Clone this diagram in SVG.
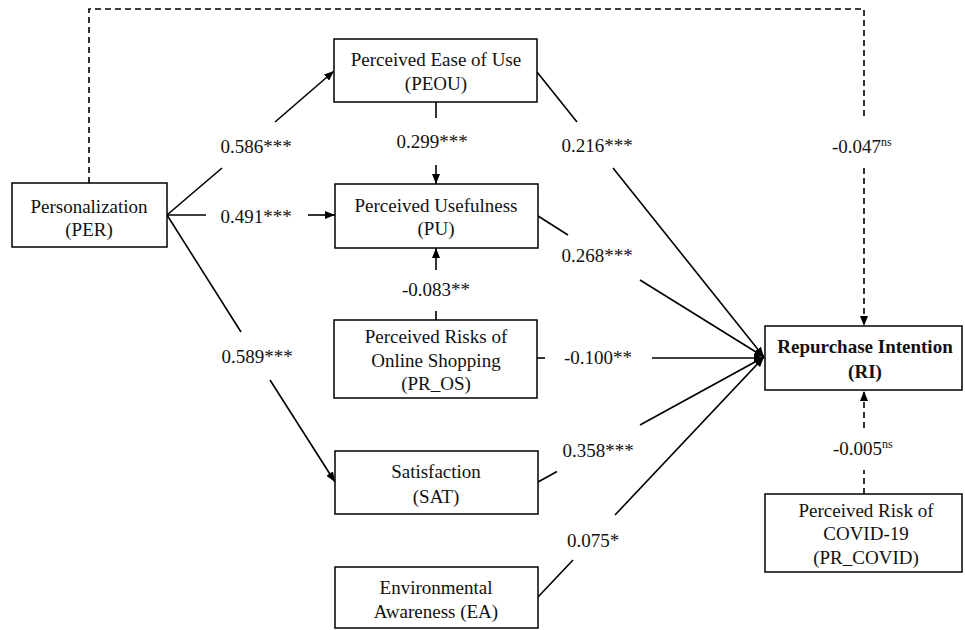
<svg xmlns="http://www.w3.org/2000/svg" width="965" height="630" viewBox="0 0 965 630">
<style>
.box{fill:#fff;stroke:#000;stroke-width:1.5}
.t{font-family:"Liberation Serif","Times New Roman",serif;font-size:19px;fill:#111;text-anchor:middle}
.b{font-weight:bold}
.lbl{font-family:"Liberation Serif","Times New Roman",serif;font-size:19px;fill:#111;text-anchor:middle}
.ls{font-family:"Liberation Serif","Times New Roman",serif;font-size:19px;fill:#111}
.ln{fill:none;stroke:#000;stroke-width:1.6}
.dash{fill:none;stroke:#000;stroke-width:1.6;stroke-dasharray:6 4}
</style>
<defs>
<marker id="ah" markerUnits="userSpaceOnUse" markerWidth="10" markerHeight="8" refX="10" refY="4" orient="auto">
<path d="M0,0 L10,4 L0,8 z" fill="#000"/>
</marker>
</defs>
<rect width="965" height="630" fill="#fff"/>
<g id="connectors">
<!-- PER -> RI dashed -->
<polyline class="dash" points="89,183 89,9 864,9 864,120"/>
<line class="dash" x1="864" y1="168" x2="864" y2="326" marker-end="url(#ah)"/>
<!-- PR_COVID -> RI dashed -->
<line class="dash" x1="864" y1="494" x2="864" y2="470"/>
<line class="dash" x1="864" y1="428" x2="864" y2="391" marker-end="url(#ah)"/>
<!-- PER -> PEOU -->
<line class="ln" x1="167" y1="215" x2="222" y2="168"/>
<line class="ln" x1="275" y1="122" x2="334" y2="71" marker-end="url(#ah)"/>
<!-- PER -> PU -->
<line class="ln" x1="167" y1="215" x2="206" y2="215"/>
<line class="ln" x1="308" y1="215" x2="335" y2="215" marker-end="url(#ah)"/>
<!-- PER -> SAT -->
<line class="ln" x1="167" y1="215" x2="241" y2="332"/>
<line class="ln" x1="270" y1="380" x2="335" y2="482" marker-end="url(#ah)"/>
<!-- PEOU -> PU -->
<line class="ln" x1="436" y1="102" x2="436" y2="118"/>
<line class="ln" x1="436" y1="165" x2="436" y2="184" marker-end="url(#ah)"/>
<!-- PR_OS -> PU -->
<line class="ln" x1="436" y1="320" x2="436" y2="311"/>
<line class="ln" x1="436" y1="270" x2="436" y2="248" marker-end="url(#ah)"/>
<!-- PEOU -> RI -->
<line class="ln" x1="537" y1="72" x2="577" y2="122"/>
<line class="ln" x1="613" y1="168" x2="764" y2="357" marker-end="url(#ah)"/>
<!-- PU -> RI -->
<line class="ln" x1="538" y1="216" x2="568" y2="235"/>
<line class="ln" x1="640" y1="280" x2="764" y2="357" marker-end="url(#ah)"/>
<!-- PR_OS -> RI -->
<line class="ln" x1="537" y1="358" x2="545" y2="358"/>
<line class="ln" x1="652" y1="358" x2="764" y2="358" marker-end="url(#ah)"/>
<!-- SAT -> RI -->
<line class="ln" x1="538" y1="482" x2="557" y2="471.5"/>
<line class="ln" x1="640" y1="425" x2="764" y2="357" marker-end="url(#ah)"/>
<!-- EA -> RI -->
<line class="ln" x1="538" y1="597" x2="573" y2="560"/>
<line class="ln" x1="615" y1="515" x2="764" y2="357" marker-end="url(#ah)"/>
<!-- labels -->
<text class="lbl" x="256" y="153">0.586***</text>
<text class="lbl" x="256" y="223">0.491***</text>
<text class="lbl" x="257" y="363">0.589***</text>
<text class="lbl" x="432" y="148">0.299***</text>
<text class="lbl" x="597" y="152">0.216***</text>
<text class="lbl" x="597" y="262">0.268***</text>
<text class="lbl" x="436" y="296">-0.083**</text>
<text class="lbl" x="598" y="364">-0.100**</text>
<text class="lbl" x="598" y="457">0.358***</text>
<text class="lbl" x="593" y="547">0.075*</text>
<text class="ls" x="832" y="153">-0.047<tspan font-size="12" dy="-7">ns</tspan></text>
<text class="ls" x="833" y="455">-0.005<tspan font-size="12" dy="-7">ns</tspan></text>
</g>
<g id="PER">
<rect class="box" x="12" y="183" width="155" height="64"/>
<text class="t" x="89" y="213">Personalization</text>
<text class="t" x="89" y="236">(PER)</text>
</g>
<g id="PEOU">
<rect class="box" x="334" y="39" width="203" height="63"/>
<text class="t" x="436" y="66">Perceived Ease of Use</text>
<text class="t" x="436" y="90">(PEOU)</text>
</g>
<g id="PU">
<rect class="box" x="335" y="184" width="203" height="64"/>
<text class="t" x="436" y="212">Perceived Usefulness</text>
<text class="t" x="436" y="235">(PU)</text>
</g>
<g id="PR_OS">
<rect class="box" x="334" y="320" width="203" height="78"/>
<text class="t" x="436" y="343">Perceived Risks of</text>
<text class="t" x="436" y="367">Online Shopping</text>
<text class="t" x="436" y="390">(PR_OS)</text>
</g>
<g id="SAT">
<rect class="box" x="335" y="451" width="203" height="63"/>
<text class="t" x="436" y="478">Satisfaction</text>
<text class="t" x="436" y="503">(SAT)</text>
</g>
<g id="EA">
<rect class="box" x="335" y="567" width="203" height="61"/>
<text class="t" x="436" y="594">Environmental</text>
<text class="t" x="436" y="618">Awareness (EA)</text>
</g>
<g id="RI">
<rect class="box" x="765" y="326" width="197" height="64"/>
<text class="t b" x="865" y="353">Repurchase Intention</text>
<text class="t b" x="865" y="378">(RI)</text>
</g>
<g id="PR_COVID">
<rect class="box" x="765" y="494" width="197" height="78"/>
<text class="t" x="866" y="517">Perceived Risk of</text>
<text class="t" x="866" y="540">COVID-19</text>
<text class="t" x="866" y="564">(PR_COVID)</text>
</g>
</svg>
